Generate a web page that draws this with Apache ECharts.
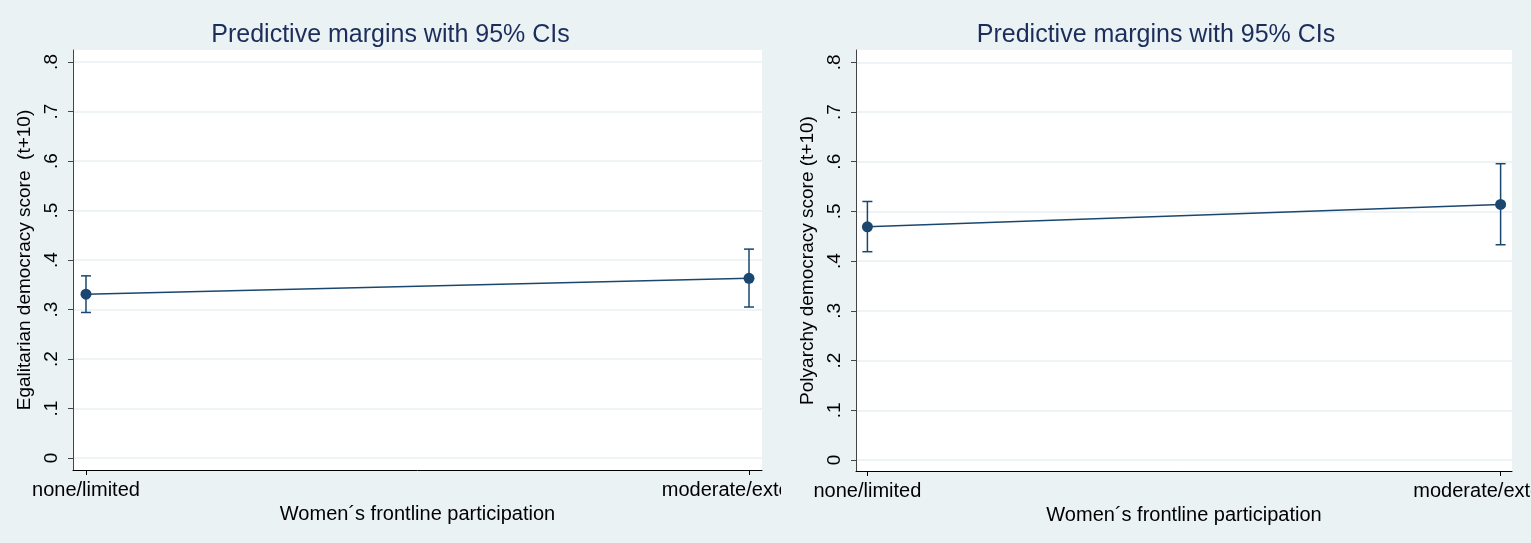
<!DOCTYPE html>
<html>
<head>
<meta charset="utf-8">
<script src="https://cdn.jsdelivr.net/npm/echarts@6/dist/echarts.min.js"></script>
<style>
  html, body { margin: 0; padding: 0; background: #eaf2f3; }
  #left { position: absolute; left: 0; top: 0; width: 781px; height: 543px; overflow: hidden; }
  #right { position: absolute; left: 781px; top: 0; width: 750px; height: 543px; overflow: hidden; }
</style>
</head>
<body>
<div id="left"></div>
<div id="right"></div>
<script>
// ---- data ----
const categories = ['none/limited', 'moderate/extensive'];
const yTicks = [0, 0.1, 0.2, 0.3, 0.4, 0.5, 0.6, 0.7, 0.8];
const yTickLabels = ['0', '.1', '.2', '.3', '.4', '.5', '.6', '.7', '.8'];

const egalMargin = [0.331, 0.363];
const egalLower  = [0.294, 0.305];
const egalUpper  = [0.368, 0.422];

const polyMargin = [0.469, 0.514];
const polyLower  = [0.419, 0.433];
const polyUpper  = [0.520, 0.596];

const titleText = 'Predictive margins with 95% CIs';
const xTitle = 'Women\u00b4s frontline participation';
const egalYTitle = 'Egalitarian democracy score  (t+10)';
const polyYTitle = 'Polyarchy democracy score (t+10)';

// ---- chart builder ----
const FONT = 'Liberation Sans, Arial, Helvetica, sans-serif';
const NAVY = '#1a476f';

function buildOption(cfg) {
  const pointData = cfg.margin.map((v, i) => [i, v]);
  const ciData = cfg.margin.map((v, i) => [i, cfg.lower[i], cfg.upper[i]]);
  return {
    animation: false,
    backgroundColor: 'transparent',
    title: {
      text: titleText,
      left: 'center',
      top: 18,
      textStyle: { color: '#1c2d5c', fontSize: 25, fontWeight: 'normal', fontFamily: FONT }
    },
    grid: {
      left: cfg.grid.left, top: cfg.grid.top, width: cfg.grid.width, height: cfg.grid.height,
      show: true, backgroundColor: '#ffffff', borderWidth: 0,
      containLabel: false,
      outerBoundsMode: 'none'
    },
    xAxis: {
      type: 'value',
      min: cfg.xMin, max: cfg.xMax,
      name: xTitle,
      nameLocation: 'middle',
      nameGap: 32,
      nameTextStyle: { color: '#000', fontSize: 20, fontFamily: FONT },
      axisLine: { show: true, onZero: false, lineStyle: { color: '#000', width: 1 } },
      axisTick: { show: true, customValues: [0, 1], length: 5, lineStyle: { color: '#000', width: 1 } },
      axisLabel: {
        customValues: [0, 1],
        hideOverlap: false,
        formatter: v => categories[Math.round(v)],
        color: '#000', fontSize: 20, fontFamily: FONT, margin: 10
      },
      splitLine: { show: false }
    },
    yAxis: {
      type: 'value',
      min: cfg.yMin, max: cfg.yMax,
      name: cfg.yTitle,
      nameLocation: 'middle',
      nameGap: cfg.yNameGap,
      nameTextStyle: { color: '#000', fontSize: 19, fontFamily: FONT },
      axisLine: { show: true, onZero: false, lineStyle: { color: '#444', width: 1 } },
      axisTick: { show: true, customValues: yTicks, length: 5, lineStyle: { color: '#444', width: 1 } },
      axisLabel: {
        customValues: yTicks,
        rotate: 90,
        formatter: v => yTickLabels[Math.round(v * 10)],
        color: '#000', fontSize: 19, fontFamily: FONT, margin: 12
      },
      splitLine: { show: true, lineStyle: { color: '#e8f0f2', width: 1.5 } }
    },
    series: [
      {
        type: 'custom',
        z: 2,
        data: ciData,
        encode: { x: 0, y: [1, 2] },
        renderItem: function (params, api) {
          const x = api.value(0);
          const lo = api.coord([x, api.value(1)]);
          const hi = api.coord([x, api.value(2)]);
          const w = 5;
          const st = { stroke: NAVY, lineWidth: 1.5, fill: null };
          return {
            type: 'group',
            children: [
              { type: 'line', shape: { x1: lo[0], y1: lo[1], x2: hi[0], y2: hi[1] }, style: st },
              { type: 'line', shape: { x1: lo[0] - w, y1: lo[1], x2: lo[0] + w, y2: lo[1] }, style: st },
              { type: 'line', shape: { x1: hi[0] - w, y1: hi[1], x2: hi[0] + w, y2: hi[1] }, style: st }
            ]
          };
        }
      },
      {
        type: 'line',
        z: 3,
        data: pointData,
        symbol: 'circle',
        symbolSize: 11,
        itemStyle: { color: NAVY },
        lineStyle: { color: NAVY, width: 1.5 }
      }
    ]
  };
}

const leftChart = echarts.init(document.getElementById('left'), null, { renderer: 'canvas' });
leftChart.setOption(buildOption({
  margin: egalMargin, lower: egalLower, upper: egalUpper,
  yTitle: egalYTitle, yNameGap: 30,
  grid: { left: 73, top: 50, width: 689, height: 420 },
  xMin: -0.0196, xMax: 1.0196,
  yMin: -0.0242, yMax: 0.8242
}));

const rightChart = echarts.init(document.getElementById('right'), null, { renderer: 'canvas' });
rightChart.setOption(buildOption({
  margin: polyMargin, lower: polyLower, upper: polyUpper,
  yTitle: polyYTitle, yNameGap: 27,
  grid: { left: 75, top: 50, width: 656, height: 421 },
  xMin: -0.018, xMax: 1.018,
  yMin: -0.0221, yMax: 0.8247
}));
</script>
</body>
</html>
